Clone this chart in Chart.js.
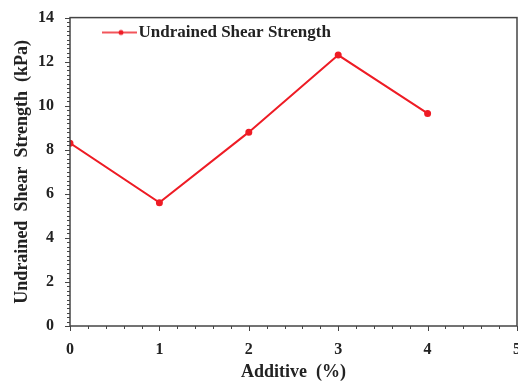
<!DOCTYPE html>
<html>
<head>
<meta charset="utf-8">
<script src="https://cdn.jsdelivr.net/npm/chart.js@4/dist/chart.umd.min.js"></script>
<style>
  html, body { margin: 0; padding: 0; background: #fff; overflow: hidden; }
  #wrap { width: 518px; height: 383px; overflow: hidden; }
</style>
</head>
<body>
<div id="wrap"><canvas id="shearChart" width="527" height="383"></canvas></div>
<script>
// data
const additive = [0, 1, 2, 3, 4];
const shearStrength = [8.3, 5.6, 8.8, 12.3, 9.65];
const seriesName = 'Undrained Shear Strength';
const xTicks = [0, 1, 2, 3, 4, 5];
const yTicks = [0, 2, 4, 6, 8, 10, 12, 14];

const RED = '#ee1c25';
const AXIS = '#444';
const FONT = 'Liberation Serif';

// legend symbol: line with a dot in the middle
function legendSymbol() {
    const c = document.createElement('canvas');
    c.width = 64; c.height = 8;
    const g = c.getContext('2d');
    g.strokeStyle = RED; g.lineWidth = 1.5;
    g.beginPath(); g.moveTo(29, 4); g.lineTo(64, 4); g.stroke();
    g.fillStyle = RED;
    g.beginPath(); g.arc(48, 4, 2.5, 0, Math.PI * 2); g.fill();
    return c;
}

// frame + minor/major ticks drawn from the scales
const frameTicks = {
    id: 'frameTicks',
    afterDraw(chart) {
        const { ctx, chartArea: a, scales: { x, y } } = chart;
        ctx.save();
        ctx.strokeStyle = AXIS;
        ctx.lineWidth = 1.5;
        ctx.strokeRect(a.left, a.top, a.right - a.left, a.bottom - a.top);
        ctx.lineWidth = 1;
        ctx.beginPath();
        for (let i = 0; i <= 25; i++) {
            const px = Math.round(x.getPixelForValue(i * 0.2)) + 0.5;
            const len = i % 5 === 0 ? 5 : 3;
            ctx.moveTo(px, a.bottom); ctx.lineTo(px, a.bottom + len);
        }
        for (let i = 0; i <= 70; i++) {
            const py = Math.round(y.getPixelForValue(i * 0.2)) + 0.5;
            const len = i % 10 === 0 ? 5 : 3;
            ctx.moveTo(a.left, py); ctx.lineTo(a.left - len, py);
        }
        ctx.stroke();
        ctx.restore();
    }
};

new Chart(document.getElementById('shearChart'), {
    type: 'line',
    data: {
        datasets: [{
            label: seriesName,
            data: additive.map((a, i) => ({ x: a, y: shearStrength[i] })),
            borderColor: RED,
            backgroundColor: RED,
            borderWidth: 2,
            pointRadius: 2.5,
            pointHoverRadius: 2.5,
            tension: 0
        }]
    },
    options: {
        responsive: false,
        animation: false,
        layout: { padding: { top: 16, right: 9, left: 0, bottom: 0 } },
        scales: {
            x: {
                type: 'linear',
                min: 0, max: 5,
                afterBuildTicks: s => { s.ticks = xTicks.map(v => ({ value: v })); },
                afterFit: s => { s.height = 57; },
                grid: { display: false },
                border: { display: false },
                ticks: { color: '#222', font: { family: FONT, size: 16, weight: 'bold' }, padding: 6, maxRotation: 0 },
                title: { display: true, text: 'Additive  (%)', color: '#222', padding: { top: 2, bottom: 0 },
                         font: { family: FONT, size: 18, weight: 'bold' } }
            },
            y: {
                min: 0, max: 14,
                afterBuildTicks: s => { s.ticks = yTicks.map(v => ({ value: v })); },
                afterFit: s => { s.width = 70; },
                grid: { display: false },
                border: { display: false },
                ticks: { color: '#222', font: { family: FONT, size: 16, weight: 'bold' }, padding: 8 },
                title: { display: true, text: 'Undrained  Shear  Strength  (kPa)', color: '#222', padding: { top: 12, bottom: 0 },
                         font: { family: FONT, size: 18, weight: 'bold' } }
            }
        },
        plugins: {
            legend: {
                position: 'chartArea',
                align: 'start',
                title: { display: true, text: ' ', padding: 0, font: { size: 14, lineHeight: 1 } },
                labels: {
                    usePointStyle: true,
                    pointStyle: legendSymbol(),
                    pointStyleWidth: 50,
                    padding: 10,
                    color: '#222',
                    font: { family: FONT, size: 17, weight: 'bold' }
                }
            },
            tooltip: { enabled: false }
        }
    },
    plugins: [frameTicks]
});
</script>
</body>
</html>
